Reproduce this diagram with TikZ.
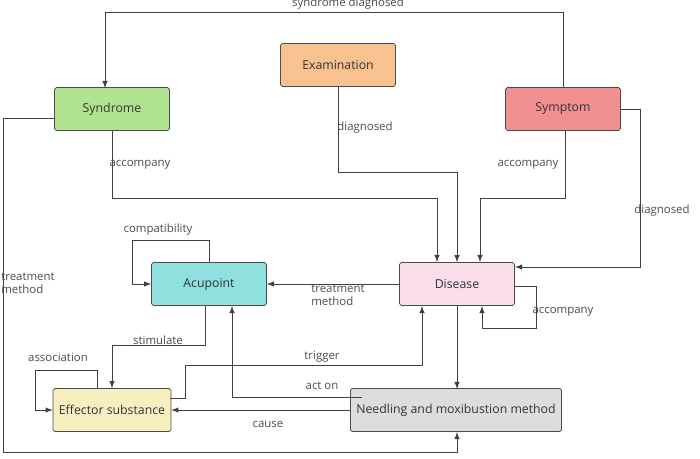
\documentclass[tikz,border=0pt]{standalone}
\usepackage{fontspec}
\setmainfont{Open Sans}
\begin{document}
\begin{tikzpicture}[x=0.02cm,y=-0.02cm,
    box/.style = {draw=black!70, rounded corners=1pt, minimum width=2.3cm, minimum height=0.86cm, font=\fontsize{7}{8}\selectfont, text=black!80},
    lbl/.style = {font=\fontsize{6.5}{7.5}\selectfont, text=black!70, align=left},
    line/.style = {draw=black!75, -latex}]
        \useasboundingbox (0,0) rectangle (700,458);
        \node[box, fill={rgb,255:red,176;green,227;blue,143}] (syndrome) at (112,109) {Syndrome};
        \node[box, fill={rgb,255:red,247;green,194;blue,144}] (exam) at (338,65) {Examination};
        \node[box, fill={rgb,255:red,240;green,144;blue,144}] (symptom) at (563,109) {Symptom};
        \node[box, fill={rgb,255:red,144;green,224;blue,224}] (acupoint) at (209,284) {Acupoint};
        \node[box, fill={rgb,255:red,250;green,220;blue,235}] (disease) at (457,284) {Disease};
        \node[box, fill={rgb,255:red,247;green,238;blue,192}] (effector) at (112,410) {Effector substance};
        \node[box, fill={rgb,255:red,221;green,221;blue,221}, minimum width=3.78cm] (needling) at (456,410) {Needling and moxibustion method};
        % top edges
        \draw[line] (symptom.north) -- (563,12) -- (105,12) -- (105,88);
        \draw[line] (exam.south) -- (338,172) -- (457,172) -- (disease.north);
        \draw[line] (syndrome.south) -- (112,198) -- (437,198) -- (437,262);
        \draw[line] (565,130) -- (565,198) -- (480,198) -- (480,262);
        \draw[line] (symptom.east) -- (640,109) -- (640,267) -- (515,267);
        % middle
        \draw[line] (disease.west) -- (acupoint.east);
        \draw[line] (515,286) -- (536,286) -- (536,328) -- (482,328) -- (482,306);
        \draw[line] (acupoint.north) -- (209,240) -- (132,240) -- (132,284) -- (acupoint.west);
        \draw[line] (205,306) -- (205,345) -- (112,345) -- (effector.north);
        \draw[line] (97,389) -- (97,370) -- (35,370) -- (35,410) -- (effector.west);
        \draw[line] (170,398) -- (185,398) -- (185,365) -- (422,365) -- (422,306);
        \draw[line] (362,397) -- (232,397) -- (232,306);
        \draw[line] (needling.west) -- (effector.east);
        \draw[line] (disease.south) -- (457,389);
        \draw[line] (55,118) -- (3,118) -- (3,452) -- (457,452) -- (457,432);
        % labels
        \node[lbl] (l1) at (348,4) {syndrome diagnosed};
        \node[lbl] (l2) at (365,128) {diagnosed};
        \node[lbl] (l3) at (140,165) {accompany};
        \node[lbl] (l4) at (528,165) {accompany};
        \node[lbl] (l5) at (662,211) {diagnosed};
        \node[lbl] (l6) at (338,295) {treatment\\method};
        \node[lbl] (l7) at (563,312) {accompany};
        \node[lbl] (l8) at (158,230) {compatibility};
        \node[lbl] (l9) at (158,340) {stimulate};
        \node[lbl] (l10) at (58,357) {association};
        \node[lbl] (l11) at (322,357) {trigger};
        \node[lbl] (l12) at (322,386) {act on};
        \node[lbl] (l13) at (268,424) {cause};
        \node[lbl] (l14) at (28,283) {treatment\\method};
\end{tikzpicture}
\end{document}
